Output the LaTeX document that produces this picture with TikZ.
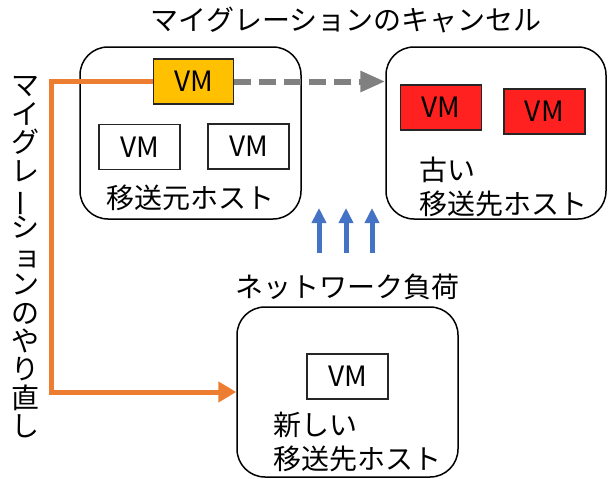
\documentclass[tikz,border=0pt]{standalone}
\usepackage{fontspec}
\usepackage{graphicx}
\setmainfont{Noto Sans CJK JP}
\usetikzlibrary{arrows.meta}
\definecolor{vmyellow}{HTML}{FFC000}
\definecolor{vmred}{HTML}{FF2020}
\definecolor{migorange}{HTML}{ED7D31}
\definecolor{netblue}{HTML}{4472C4}
\definecolor{dashgray}{HTML}{808080}
\newcommand{\vbarglyph}{\rotatebox[origin=c]{90}{ー}}
\newcommand{\vstackline}[1]{\hbox to 30pt{\hss #1\hss}}
\begin{document}
\begin{tikzpicture}[x=1pt,y=-1pt,
  font=\fontsize{28}{34}\selectfont,
  hostbox/.style={draw=black, line width=1.5pt, rounded corners=28pt,
    minimum width=221pt, minimum height=172pt, inner sep=0pt},
  vmbox/.style={draw=black!85, line width=1.5pt, minimum width=81pt,
    minimum height=45pt, inner sep=0pt},
  txt/.style={inner sep=0pt, align=left},
  netarrow/.style={draw=netblue, line width=5pt, -{Triangle[length=15pt,width=14pt]}},
]
\useasboundingbox (0,0) rectangle (608,479);

% hosts
\node[hostbox] (src) at (190.5,133) {};
\node[hostbox, minimum width=220pt] (old) at (496,133) {};
\node[hostbox, minimum height=170pt] (new) at (347.5,392) {};

% VMs
\node[vmbox, fill=vmyellow, minimum width=80pt] (vmY) at (193.5,81.5) {VM};
\node[vmbox] (vmA) at (139.6,147) {VM};
\node[vmbox] (vmB) at (248.7,146.5) {VM};
\node[vmbox, fill=vmred] (vmR1) at (441,107.5) {VM};
\node[vmbox, fill=vmred] (vmR2) at (544.4,111.3) {VM};
\node[vmbox] (vmN) at (347.5,376.5) {VM};

% labels
\node[txt] (title) at (346,20) {マイグレーションのキャンセル};
\node[txt, anchor=west] (srclbl) at (106,198) {移送元ホスト};
\node[txt] (oldlbl) at (503,187) {古い\\移送先ホスト};
\node[txt] (newlbl) at (357,441.5) {新しい\\移送先ホスト};
\node[txt] (netlbl) at (347,287) {ネットワーク負荷};
\node[inner sep=0pt] (vlbl) at (25,257.5) {\vbox{%
  \baselineskip=28.4pt \lineskiplimit=-60pt \lineskip=0pt
  \vstackline{マ}\vstackline{イ}\vstackline{グ}\vstackline{レ}%
  \vstackline{\vbarglyph}\vstackline{シ}\vstackline{\kern4pt ョ}%
  \vstackline{ン}\vstackline{の}\vstackline{や}\vstackline{り}%
  \vstackline{直}\vstackline{し}}};

% gray dashed arrow (cancelled migration)
\draw[dashgray, line width=6pt, dash pattern=on 17pt off 8pt,
  -{Triangle[length=25pt,width=20pt]}] (vmY.east) -- (vmY.east -| old.west);

% orange arrow (retry)
\coordinate (turn) at (51,81.5);
\draw[migorange, line width=5pt, -{Triangle[length=18pt,width=20pt]}]
  (vmY.west) -- (turn) |- (new.west);

% network load arrows
\coordinate (b1s) at (319,253); \coordinate (b1e) at (319,208);
\coordinate (b2s) at (346,253); \coordinate (b2e) at (346,208);
\coordinate (b3s) at (372,253); \coordinate (b3e) at (372,208);
\draw[netarrow] (b1s) -- (b1e);
\draw[netarrow] (b2s) -- (b2e);
\draw[netarrow] (b3s) -- (b3e);
\end{tikzpicture}
\end{document}
